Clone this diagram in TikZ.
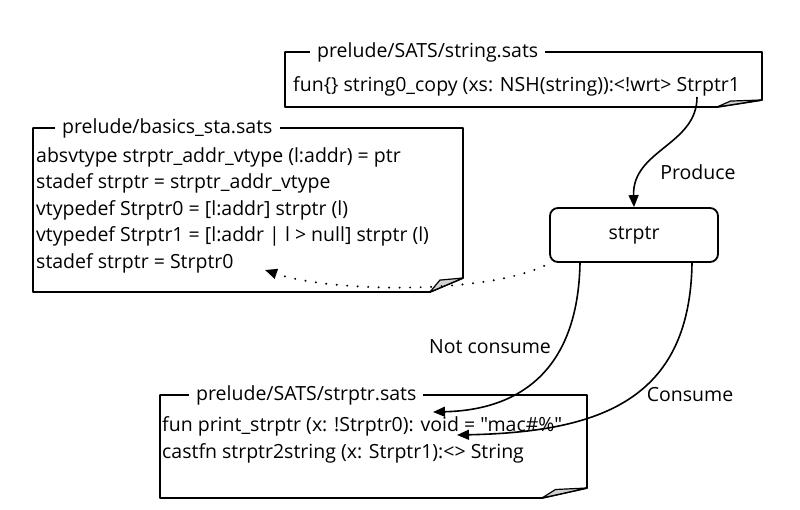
\documentclass[tikz,border=0pt]{standalone}
\usepackage{fontspec}
\setmainfont{Open Sans}[Ligatures=TeXOff]
\usetikzlibrary{arrows.meta}
\tikzset{
  boxline/.style={line width=1.8pt, line join=round},
  flap/.style={line width=1.2pt, fill=gray!35, line join=round},
  titletext/.style={fill=white, inner xsep=7pt, inner ysep=1pt, anchor=west, font=\fontsize{19.5}{23}\selectfont},
  bodytext/.style={anchor=base west, align=left, inner sep=0pt, font=\fontsize{19.5}{26.5}\selectfont},
  conn/.style={line width=1.6pt, -{Triangle[length=12pt,width=10pt]}},
  dotconn/.style={line width=2.2pt, line cap=round, dash pattern=on 0pt off 10.5pt, -{Triangle[length=12pt,width=10pt]}},
  lbl/.style={font=\fontsize{19.5}{23}\selectfont},
  procbox/.style={draw, rounded corners=8pt, line width=1.8pt, minimum width=168pt, minimum height=54pt, font=\fontsize{19.5}{23}\selectfont},
}
\newcommand\notebox[6]{%
  \draw[boxline] (#1,#2) -- (#3,#2) -- (#3,#4-#6) .. controls (#3-0.5*#5,#4-0.5*#6) .. (#3-#5,#4) -- (#1,#4) -- cycle;
  \filldraw[flap] (#3-#5,#4) -- (#3-0.7*#5,#4-0.85*#6) -- (#3,#4-#6) .. controls (#3-0.5*#5,#4-0.5*#6) .. (#3-#5,#4) -- cycle;
}
\begin{document}
\begin{tikzpicture}[x=1pt,y=-1pt]
\useasboundingbox[fill=white] (0,0) rectangle (800,509);

% note boxes
\notebox{285}{52}{762}{107}{45}{7}
\notebox{33}{128}{463}{292}{33}{14}
\notebox{160}{395}{587}{498}{45}{10}

% titles
\node[titletext] (t1) at (310,52) {prelude/SATS/string.sats};
\node[titletext] (t2) at (55,128) {prelude/basics\_sta.sats};
\node[titletext] (t3) at (189,395) {prelude/SATS/strptr.sats};

% bodies (anchored at the baseline of the last line)
\node[bodytext] (b1) at (293,91) {fun\{\} string0\_copy (xs: NSH(string)):<!wrt> Strptr1};
\node[bodytext] (b2) at (36,268) {absvtype strptr\_addr\_vtype (l:addr) = ptr\\
stadef strptr = strptr\_addr\_vtype\\
vtypedef Strptr0 = [l:addr] strptr (l)\\
vtypedef Strptr1 = [l:addr | l > null] strptr (l)\\
stadef strptr = Strptr0};
\node[bodytext] (b3) at (162,458) {fun print\_strptr (x: !Strptr0): void = "mac\#\%"\\
castfn strptr2string (x: Strptr1):<> String};

% central node
\node[procbox] (sp) at (634,235) {strptr};

% connector ends
\coordinate (prodstart) at (697,97);
\coordinate (ncend) at (433,412);
\coordinate (csend) at (457,435);
\coordinate (dotend) at (265,270);

% connectors
\draw[conn] (prodstart) .. controls (697,145) and (632,150) .. (sp.north);
\draw[conn] ([xshift=-54pt]sp.south) .. controls (578,370) and (520,410) .. (ncend);
\draw[conn] ([xshift=58pt]sp.south) .. controls (690,400) and (600,432) .. (csend);
\draw[dotconn] ([xshift=-5pt,yshift=-3pt]sp.south west) .. controls (480,295) and (330,292) .. (dotend);

% labels
\node[lbl] (lp) at (698,172) {Produce};
\node[lbl] (lnc) at (490,347) {Not consume};
\node[lbl] (lc) at (690,395) {Consume};
\end{tikzpicture}
\end{document}
